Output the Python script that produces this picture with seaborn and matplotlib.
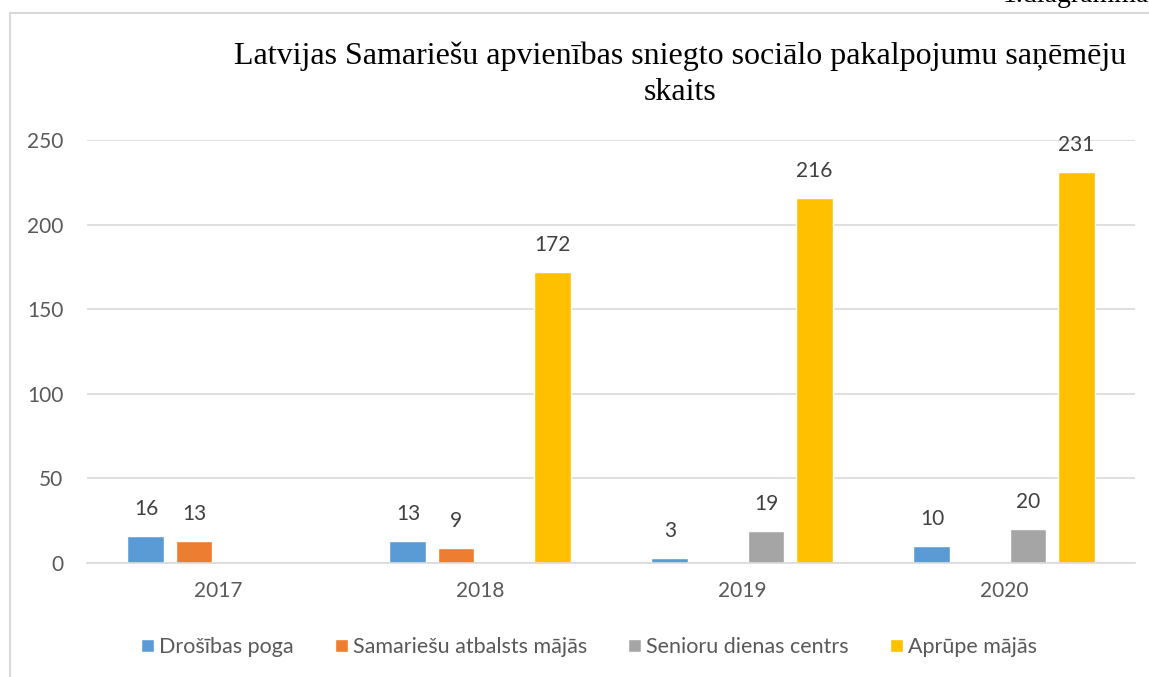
import numpy as np
import pandas as pd
import seaborn as sns
import matplotlib.pyplot as plt
from matplotlib.patches import Rectangle

years = ["2017", "2018", "2019", "2020"]
drosibas_poga = [16, 13, 3, 10]
samariesu_atbalsts = [13, 9, np.nan, np.nan]
senioru_centrs = [np.nan, np.nan, 19, 20]
aprupe_majas = [np.nan, 172, 216, 231]
series_names = ["Drošības poga", "Samariešu atbalsts mājās", "Senioru dienas centrs", "Aprūpe mājās"]
colors = ["#5B9BD5", "#ED7D31", "#A5A5A5", "#FFC000"]
title = "Latvijas Samariešu apvienības sniegto sociālo pakalpojumu saņēmēju\nskaits"
yticks = [0, 50, 100, 150, 200, 250]

rows = []
for name, vals in zip(series_names, [drosibas_poga, samariesu_atbalsts, senioru_centrs, aprupe_majas]):
    for y, v in zip(years, vals):
        rows.append({"Gads": y, "Sērija": name, "Vērtība": v})
df = pd.DataFrame(rows)

sns.set_theme(style="white")
plt.rcParams["font.family"] = ["Lato", "DejaVu Sans"]

W, H = 1149, 677
fig = plt.figure(figsize=(W / 100, H / 100), dpi=100)
fig.patch.set_facecolor("white")
fig.patches.append(Rectangle((10 / W, -0.1), 1.2, 1 - 13 / H + 0.1, transform=fig.transFigure,
                             fill=False, edgecolor="#d9d9d9", linewidth=1.5))

ax = fig.add_axes([87 / W, (H - 563) / H, (1135 - 87) / W, (563 - 140) / H])
sns.barplot(data=df, x="Gads", y="Vērtība", hue="Sērija", hue_order=series_names,
            order=years, palette=colors, width=0.733, gap=0.23, ax=ax,
            legend=False, saturation=1, err_kws={"linewidth": 0})

for cont in ax.containers:
    labels = ["" if np.isnan(v) else f"{int(v)}" for v in cont.datavalues]
    ax.bar_label(cont, labels=labels, padding=12, fontsize=15, color="#404040")

ax.set_ylim(0, 250)
ax.set_yticks(yticks)
ax.set_xlim(-0.5, 3.5)
ax.set_xlabel("")
ax.set_ylabel("")
ax.grid(axis="y", color="#d9d9d9", linewidth=1.2)
ax.set_axisbelow(True)
for s in ["top", "right", "left"]:
    ax.spines[s].set_visible(False)
ax.spines["bottom"].set_color("#d9d9d9")
ax.spines["bottom"].set_linewidth(1.2)
ax.tick_params(axis="both", length=0, labelsize=15, labelcolor="#595959")
ax.tick_params(axis="x", pad=13)
ax.tick_params(axis="y", pad=17)

fig.text(680 / W, 1 - 74 / H, title, ha="center", va="center", fontsize=23,
         family=["Liberation Serif", "DejaVu Serif"], color="black", linespacing=1.34)
fig.text(1003 / W, 1 - 1.5 / H, "1.diagramma", ha="left", va="baseline", fontsize=20,
         family=["Liberation Serif", "DejaVu Serif"], color="black")

handles = [Rectangle((0, 0), 1, 1, facecolor=c) for c in colors]
fig.legend(handles, series_names, loc="center", bbox_to_anchor=(589 / W, 1 - 647 / H), ncol=4,
           frameon=False, handlelength=0.6, handleheight=0.6, handletextpad=0.25,
           columnspacing=1.9, prop={"size": 15.5}, labelcolor="#595959")

fig.savefig("out.png", dpi=100)
